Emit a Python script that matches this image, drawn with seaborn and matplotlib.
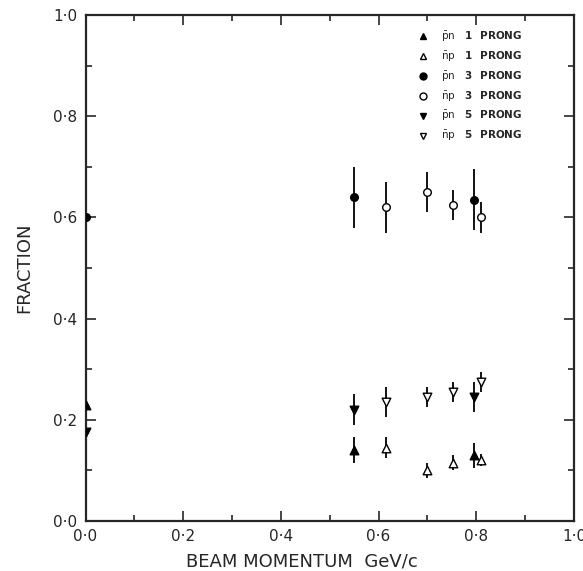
import matplotlib
matplotlib.use("Agg")
import matplotlib.pyplot as plt
from matplotlib.lines import Line2D
import seaborn as sns
import pandas as pd
import numpy as np

# ---- data ----
pn1_x = [0.0, 0.550, 0.795]
pn1_y = [0.23, 0.14, 0.13]
pn1_e = [0.02, 0.025, 0.025]

np1_x = [0.615, 0.700, 0.752, 0.810]
np1_y = [0.145, 0.100, 0.115, 0.120]
np1_e = [0.020, 0.015, 0.015, 0.012]

pn3_x = [0.0, 0.550, 0.795]
pn3_y = [0.60, 0.64, 0.635]
pn3_e = [0.03, 0.06, 0.06]

np3_x = [0.615, 0.700, 0.752, 0.810]
np3_y = [0.620, 0.650, 0.625, 0.600]
np3_e = [0.050, 0.040, 0.030, 0.030]

pn5_x = [0.0, 0.550, 0.795]
pn5_y = [0.175, 0.22, 0.245]
pn5_e = [0.02, 0.03, 0.03]

np5_x = [0.615, 0.700, 0.752, 0.810]
np5_y = [0.235, 0.245, 0.255, 0.275]
np5_e = [0.030, 0.020, 0.020, 0.020]

labels = [r"$\bar{\mathrm{p}}\mathrm{n}$   1  PRONG",
          r"$\bar{\mathrm{n}}\mathrm{p}$   1  PRONG",
          r"$\bar{\mathrm{p}}\mathrm{n}$   3  PRONG",
          r"$\bar{\mathrm{n}}\mathrm{p}$   3  PRONG",
          r"$\bar{\mathrm{p}}\mathrm{n}$   5  PRONG",
          r"$\bar{\mathrm{n}}\mathrm{p}$   5  PRONG"]

xticks = [0.0, 0.2, 0.4, 0.6, 0.8, 1.0]
xticklabels = ["0·0", "0·2", "0·4", "0·6", "0·8", "1·0"]
yticks = [0.0, 0.2, 0.4, 0.6, 0.8, 1.0]
yticklabels = ["0·0", "0·2", "0·4", "0·6", "0·8", "1·0"]

series = [
    (pn1_x, pn1_y, pn1_e, "^", True),
    (np1_x, np1_y, np1_e, "^", False),
    (pn3_x, pn3_y, pn3_e, "o", True),
    (np3_x, np3_y, np3_e, "o", False),
    (pn5_x, pn5_y, pn5_e, "v", True),
    (np5_x, np5_y, np5_e, "v", False),
]

sns.set_style("ticks")
plt.rcParams['font.family'] = ['DejaVu Sans']
plt.rcParams['mathtext.fontset'] = 'dejavusans'

fig = plt.figure(figsize=(5.83, 5.71), dpi=100)
ax = fig.add_axes([0.1467, 0.0876, 0.8379, 0.8861])

handles = []
for (xs, ys, es, mk, filled), lab in zip(series, labels):
    df = pd.DataFrame({"x": xs, "y": ys, "e": es})
    ax.errorbar(df["x"], df["y"], yerr=df["e"], fmt="none", ecolor="black",
                elinewidth=1.3, capsize=0, zorder=2)
    sns.scatterplot(data=df, x="x", y="y", marker=mk, s=38 if mk != "o" else 30,
                    color="black" if filled else "white",
                    edgecolor="black", linewidth=1.0, ax=ax, zorder=3, legend=False)
    handles.append(Line2D([], [], linestyle="none", marker=mk, markersize=5,
                          markerfacecolor="black" if filled else "white",
                          markeredgecolor="black", markeredgewidth=1.0, label=lab))

ax.set_xlim(0, 1.0)
ax.set_ylim(0, 1.0)
ax.set_xticks(xticks)
ax.set_xticklabels(xticklabels, fontsize=11)
ax.set_yticks(yticks)
ax.set_yticklabels(yticklabels, fontsize=11)
ax.set_xticks(np.arange(0.1, 1.0, 0.2), minor=True)
ax.set_yticks(np.arange(0.1, 1.0, 0.2), minor=True)
ax.tick_params(which="both", direction="in", top=True, right=True, width=1.2)
ax.tick_params(which="major", length=7, pad=6)
ax.tick_params(which="minor", length=4)
for sp in ax.spines.values():
    sp.set_linewidth(1.6)

ax.set_xlabel("BEAM MOMENTUM  GeV/c", fontsize=13, labelpad=4)
ax.xaxis.set_label_coords(0.443, -0.062)
ax.set_ylabel("FRACTION", fontsize=13, labelpad=14)

leg = ax.legend(handles=handles, loc="upper left", bbox_to_anchor=(0.665, 0.985),
                frameon=False, fontsize=7.5, handlelength=1.0, handletextpad=1.2,
                labelspacing=0.55, borderpad=0.2)
for t in leg.get_texts():
    t.set_fontweight("bold")

fig.savefig("out.png", dpi=100)
